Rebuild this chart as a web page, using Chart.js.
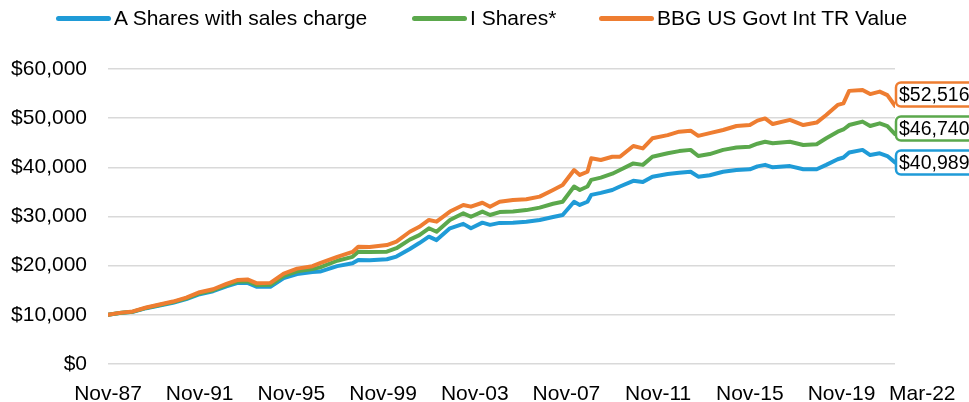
<!DOCTYPE html>
<html>
<head>
<meta charset="utf-8">
<script src="https://cdn.jsdelivr.net/npm/chart.js@4.4.0/dist/chart.umd.min.js"></script>
<style>
  html, body { margin: 0; padding: 0; background: #fff; }
  #wrap { position: relative; width: 969px; height: 402px; overflow: hidden; }
  #legend { position: absolute; left: 0; top: 0; width: 969px; height: 36px;
            font-family: "Liberation Sans", Arial, sans-serif; font-size: 21px; color: #000; }
  #legend .item { position: absolute; top: 6px; display: flex; align-items: center; white-space: nowrap; line-height: 24px; }
  #legend .line { display: inline-block; width: 55px; height: 5px; border-radius: 3px; margin-right: 3px; }
  canvas { position: absolute; left: 0; top: 0; }
</style>
</head>
<body>
<div id="wrap">
  <canvas id="myChart" width="969" height="402"></canvas>
  <div id="legend"></div>
</div>
<script>
// months counted from Nov-87
var months = [0, 6, 13, 20, 27, 34, 41, 48, 55, 62, 68, 73, 78, 85, 92, 99, 107, 111, 120, 128,
  131, 137, 146, 151, 158, 163, 168, 172, 179, 186, 190, 196, 200, 205, 212, 219, 226, 233, 238, 244,
  247, 251, 253, 258, 264, 268, 275, 280, 285, 293, 299, 305, 309, 315, 322, 329, 336, 340, 344, 348,
  357, 364, 371, 376, 382, 385, 388, 395, 399, 404, 408, 412];

var aShares = [10000, 10350, 10600, 11350, 11900, 12450, 13200, 14200, 14800, 15800,
  16500, 16500, 15700, 15700, 17500, 18300, 18700, 18800, 19900, 20500,
  21150, 21100, 21300, 21850, 23400, 24600, 25900, 25200, 27600, 28500,
  27600, 28750, 28300, 28700, 28750, 28950, 29300, 29900, 30300, 33000,
  32350, 33000, 34400, 34800, 35400, 36100, 37250, 37000, 38100, 38650,
  38900, 39100, 38100, 38400, 39100, 39450, 39600, 40200, 40500, 40000,
  40250, 39600, 39600, 40500, 41650, 42000, 43000, 43550, 42500, 42850,
  42300, 40989];

var iShares = [10000, 10380, 10650, 11420, 12000, 12580, 13350, 14400, 15000, 16050,
  16800, 16850, 16050, 16100, 17950, 18850, 19300, 19650, 21000, 21800,
  22850, 22800, 22850, 23550, 25300, 26200, 27600, 26900, 29300, 30650,
  29950, 31000, 30300, 30900, 31000, 31300, 31800, 32600, 33000, 36100,
  35400, 36100, 37450, 37900, 38700, 39450, 40800, 40500, 42150, 42850,
  43300, 43550, 42300, 42700, 43550, 44050, 44200, 44800, 45200, 44900,
  45200, 44550, 44700, 45900, 47250, 47700, 48600, 49300, 48400, 48950,
  48400, 46740];

var bbgIndex = [10000, 10400, 10700, 11500, 12100, 12700, 13500, 14600, 15200, 16300,
  17100, 17200, 16400, 16500, 18400, 19400, 19900, 20500, 21800, 22800,
  23850, 23800, 24200, 24900, 26900, 27900, 29300, 28950, 31000, 32350,
  32000, 32800, 32000, 33000, 33350, 33500, 34050, 35400, 36400, 39450,
  38450, 39100, 41850, 41500, 42150, 42150, 44350, 43850, 45900, 46550,
  47250, 47450, 46400, 46950, 47600, 48400, 48600, 49500, 49950, 48800,
  49650, 48600, 49100, 50650, 52700, 53000, 55550, 55750, 54900, 55400,
  54700, 52516];

var seriesNames = ["A Shares with sales charge", "I Shares*", "BBG US Govt Int TR Value"];
var seriesColors = ["#1f9bd7", "#5ba84c", "#ee7d31"];

var xTickMonths = [0, 48, 96, 144, 192, 240, 288, 336, 384, 412];
var xTickLabels = ["Nov-87", "Nov-91", "Nov-95", "Nov-99", "Nov-03", "Nov-07", "Nov-11", "Nov-15", "Nov-19", "Mar-22"];

var FONT = '"Liberation Sans", Arial, sans-serif';

function toPoints(values) {
    return values.map(function (v, i) { return { x: months[i], y: v }; });
}
function money(v) {
    return "$" + v.toLocaleString("en-US");
}

// html legend, built from the datasets
var htmlLegend = {
    id: "htmlLegend",
    afterUpdate: function (chart) {
        var box = document.getElementById("legend");
        box.innerHTML = "";
        var lefts = [56, 412, 599];
        chart.data.datasets.forEach(function (ds, i) {
            var item = document.createElement("div");
            item.className = "item";
            item.style.left = lefts[i] + "px";
            var line = document.createElement("span");
            line.className = "line";
            line.style.background = ds.borderColor;
            var txt = document.createElement("span");
            txt.textContent = ds.label;
            item.appendChild(line);
            item.appendChild(txt);
            box.appendChild(item);
        });
    }
};

// x labels (last one sits right of its tick) and end value boxes
var extras = {
    id: "extras",
    afterDraw: function (chart) {
        var ctx = chart.ctx;
        var xs = chart.scales.x;
        ctx.save();
        ctx.fillStyle = "#000";
        ctx.font = "21px " + FONT;
        ctx.textBaseline = "alphabetic";
        xTickMonths.forEach(function (m, i) {
            var px = xs.getPixelForValue(m);
            if (i === xTickMonths.length - 1) {
                ctx.textAlign = "left";
                ctx.fillText(xTickLabels[i], px - 6, 400);
            } else {
                ctx.textAlign = "center";
                ctx.fillText(xTickLabels[i], px, 400);
            }
        });

        // value boxes, bottom one first, pushed up when they would overlap
        var prevY = null;
        [0, 1, 2].forEach(function (di) {
            var meta = chart.getDatasetMeta(di);
            var pt = meta.data[meta.data.length - 1];
            var vals = chart.data.datasets[di].data;
            var y = pt.y;
            if (prevY !== null && y > prevY - 34) y = prevY - 34;
            prevY = y;
            var bx = pt.x + 1, bw = 90, bh = 24;
            ctx.beginPath();
            ctx.roundRect(bx, y - bh / 2, bw, bh, 5);
            ctx.fillStyle = "#fff";
            ctx.fill();
            ctx.lineWidth = 2.5;
            ctx.strokeStyle = seriesColors[di];
            ctx.stroke();
            ctx.fillStyle = "#000";
            ctx.font = "19.5px " + FONT;
            ctx.textAlign = "left";
            ctx.textBaseline = "middle";
            ctx.fillText(money(vals[vals.length - 1].y), bx + 3, y + 1);
        });
        ctx.restore();
    }
};

var ctx = document.getElementById("myChart").getContext("2d");
var myChart = new Chart(ctx, {
    type: "line",
    data: {
        datasets: [
            { label: seriesNames[0], data: toPoints(aShares), borderColor: seriesColors[0], order: 3 },
            { label: seriesNames[1], data: toPoints(iShares), borderColor: seriesColors[1], order: 2 },
            { label: seriesNames[2], data: toPoints(bbgIndex), borderColor: seriesColors[2], order: 1 }
        ]
    },
    options: {
        responsive: false,
        animation: false,
        devicePixelRatio: 1,
        layout: { padding: { left: 0, right: 74, top: 69, bottom: 0 } },
        elements: {
            line: { borderWidth: 4, tension: 0, fill: false, borderCapStyle: "round", borderJoinStyle: "round" },
            point: { radius: 0 }
        },
        plugins: {
            legend: { display: false },
            tooltip: { enabled: false }
        },
        scales: {
            x: {
                type: "linear",
                min: 0,
                max: 412,
                grid: { display: false },
                border: { display: false },
                ticks: { display: false },
                afterFit: function (scale) { scale.height = 38; }
            },
            y: {
                min: 0,
                max: 60000,
                ticks: {
                    stepSize: 10000,
                    padding: 21,
                    color: "#000",
                    font: { family: FONT, size: 21 },
                    callback: function (v) { return money(v); }
                },
                grid: { color: "#d9d9d9", lineWidth: 1.5, drawTicks: false },
                border: { display: false },
                afterFit: function (scale) { scale.width = 108; }
            }
        }
    },
    plugins: [htmlLegend, extras]
});
</script>
</body>
</html>
